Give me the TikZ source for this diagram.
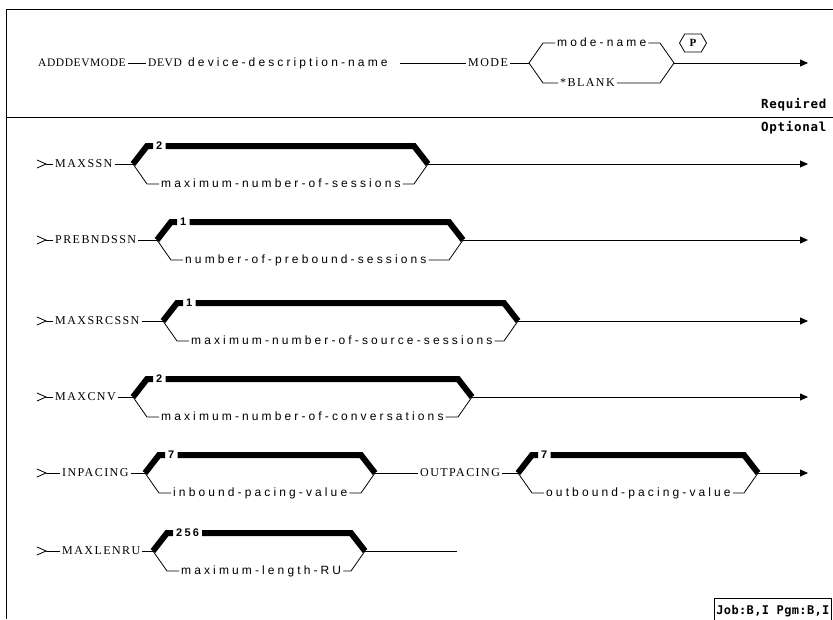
\documentclass[tikz,border=0pt]{standalone}
\usepackage{fontspec}
\usetikzlibrary{calc,arrows.meta,shapes.symbols}
\newfontfamily\kwfont[LetterSpace=12]{Liberation Serif}
\newfontfamily\hdfont[LetterSpace=5]{Liberation Serif}
\newfontfamily\varfont[LetterSpace=26]{Liberation Sans}
\newfontfamily\numfont[LetterSpace=20]{Liberation Sans}
\newfontfamily\labfont[LetterSpace=6]{DejaVu Sans Mono}
\newfontfamily\jobfont[LetterSpace=3]{DejaVu Sans Mono}
\newfontfamily\pfont{Liberation Serif}
\tikzset{
  thinline/.style={line width=0.8pt},
  frameline/.style={line width=1pt},
  barline/.style={line width=6pt, line join=miter},
  arrowline/.style={thinline, -{Triangle[length=8pt,width=7pt]}},
  basetext/.style={inner xsep=2pt, inner ysep=0pt, text height=7pt, text depth=1pt, anchor=west},
  kwtext/.style={basetext, font=\kwfont\fontsize{12}{14}\selectfont},
  hdtext/.style={basetext, font=\hdfont\fontsize{11.5}{13}\selectfont},
  vartext/.style={basetext, font=\varfont\fontsize{12}{14}\selectfont},
  numtext/.style={basetext, inner xsep=3pt, font=\numfont\bfseries\fontsize{11}{13}\selectfont},
  labtext/.style={font=\labfont\bfseries\fontsize{12.5}{14}\selectfont},
  jobtext/.style={font=\jobfont\bfseries\fontsize{12}{14}\selectfont},
  phex/.style={draw, thinline, signal, signal to=west and east, signal pointer angle=120,
    minimum width=27pt, minimum height=18pt, inner sep=1pt,
    font=\pfont\bfseries\fontsize{11}{13}\selectfont},
}
% bracket with default (thick) and variable (thin) branch
\newcommand\optchoice[6]{%
  \coordinate (b#1) at (#3,#2);
  \coordinate (r#1) at (#5,#2);
  \coordinate (bt#1) at ($(b#1)+(14,-18)$);
  \coordinate (bb#1) at ($(b#1)+(14,20)$);
  \coordinate (rt#1) at ($(r#1)+(-14,-18)$);
  \coordinate (rb#1) at ($(r#1)+(-14,20)$);
  \node[numtext] (n#1) at ($(bt#1)+(6,0)$) {#4};
  \node[vartext] (v#1) at ($(bb#1)+(12,0)$) {#6};
  \draw[barline] (b#1) -- (bt#1) -- (n#1.west);
  \draw[barline] (n#1.east) -- (rt#1) -- (r#1);
  \draw[thinline] (b#1) -- (bb#1) -- (v#1.west);
  \draw[thinline] (v#1.east) -- (rb#1) -- (r#1);
}
\newcommand\optrow[8]{%
  \coordinate (s#1) at (46,#2);
  \node[kwtext] (k#1) at (#4,#2) {#3};
  \optchoice{#1}{#2}{#5}{#6}{#7}{#8}
  \draw[thinline] (s#1) ++(-9,-4) -- (s#1) -- ++(-9,4);
  \draw[thinline] (s#1) -- (k#1.west);
  \draw[thinline] (k#1.east) -- (b#1);
}
\begin{document}
\begin{tikzpicture}[x=1pt,y=-1pt]
\useasboundingbox (0,0) rectangle (833,619);
% frame
\coordinate (ftl) at (6,9);
\coordinate (ftr) at (833,9);
\coordinate (fbl) at (6,619);
\coordinate (sepl) at (6,117);
\coordinate (sepr) at (833,117);
\draw[frameline] (ftr) -- (ftl) -- (fbl);
\draw[frameline] (sepl) -- (sepr);
% header
\node[hdtext] (cmd) at (36,63) {ADDDEVMODE};
\node[hdtext] (devd) at (146,63) {DEVD};
\node[vartext] (ddn) at (186,63) {device-description-name};
\node[kwtext] (mode) at (466,63) {MODE};
\coordinate (hL) at (529,63);
\coordinate (hR) at (674,63);
\coordinate (hLt) at (543,43);
\coordinate (hLb) at (543,83);
\coordinate (hRt) at (660,43);
\coordinate (hRb) at (660,83);
\node[vartext] (mn) at (555,43) {mode-name};
\node[kwtext] (blank) at (558,83) {*BLANK};
\node[phex] (p) at (693,43) {P};
\coordinate (hend) at (808,63);
\draw[thinline] (cmd.east) -- (devd.west);
\draw[thinline] ([xshift=10pt]ddn.east) -- (mode.west);
\draw[thinline] (mode.east) -- (hL);
\draw[thinline] (hL) -- (hLt) -- (mn.west);
\draw[thinline] (mn.east) -- (hRt) -- (hR);
\draw[thinline] (hL) -- (hLb) -- (blank.west);
\draw[thinline] (blank.east) -- (hRb) -- (hR);
\draw[arrowline] (hR) -- (hend);
\node[labtext, anchor=east] (req) at (830,105) {Required};
\node[labtext, anchor=east] (opt) at (830,128) {Optional};
% optional rows
\optrow{1}{164}{MAXSSN}{53}{133}{2}{428}{maximum-number-of-sessions}
\optrow{2}{240}{PREBNDSSN}{53}{157}{1}{463}{number-of-prebound-sessions}
\optrow{3}{321}{MAXSRCSSN}{53}{163}{1}{518}{maximum-number-of-source-sessions}
\optrow{4}{397}{MAXCNV}{53}{133}{2}{472}{maximum-number-of-conversations}
\optrow{5}{473}{INPACING}{60}{145}{7}{375}{inbound-pacing-value}
\optrow{6}{551}{MAXLENRU}{60}{153}{256}{365}{maximum-length-RU}
\coordinate (e1) at (808,164);
\coordinate (e2) at (808,240);
\coordinate (e3) at (808,321);
\coordinate (e4) at (808,397);
\coordinate (e5) at (808,473);
\coordinate (e6) at (457,551);
\draw[arrowline] (r1) -- (e1);
\draw[arrowline] (r2) -- (e2);
\draw[arrowline] (r3) -- (e3);
\draw[arrowline] (r4) -- (e4);
\node[kwtext] (outp) at (418,473) {OUTPACING};
\optchoice{7}{473}{518}{7}{758}{outbound-pacing-value}
\draw[thinline] (r5) -- (outp.west);
\draw[thinline] (outp.east) -- (b7);
\draw[arrowline] (r7) -- (e5);
\draw[thinline] (r6) -- (e6);
% job box
\node[draw, thinline, anchor=north west, minimum height=26pt, inner xsep=2pt,
  jobtext] (job) at (714,598) {Job:B,I Pgm:B,I};
\end{tikzpicture}
\end{document}
